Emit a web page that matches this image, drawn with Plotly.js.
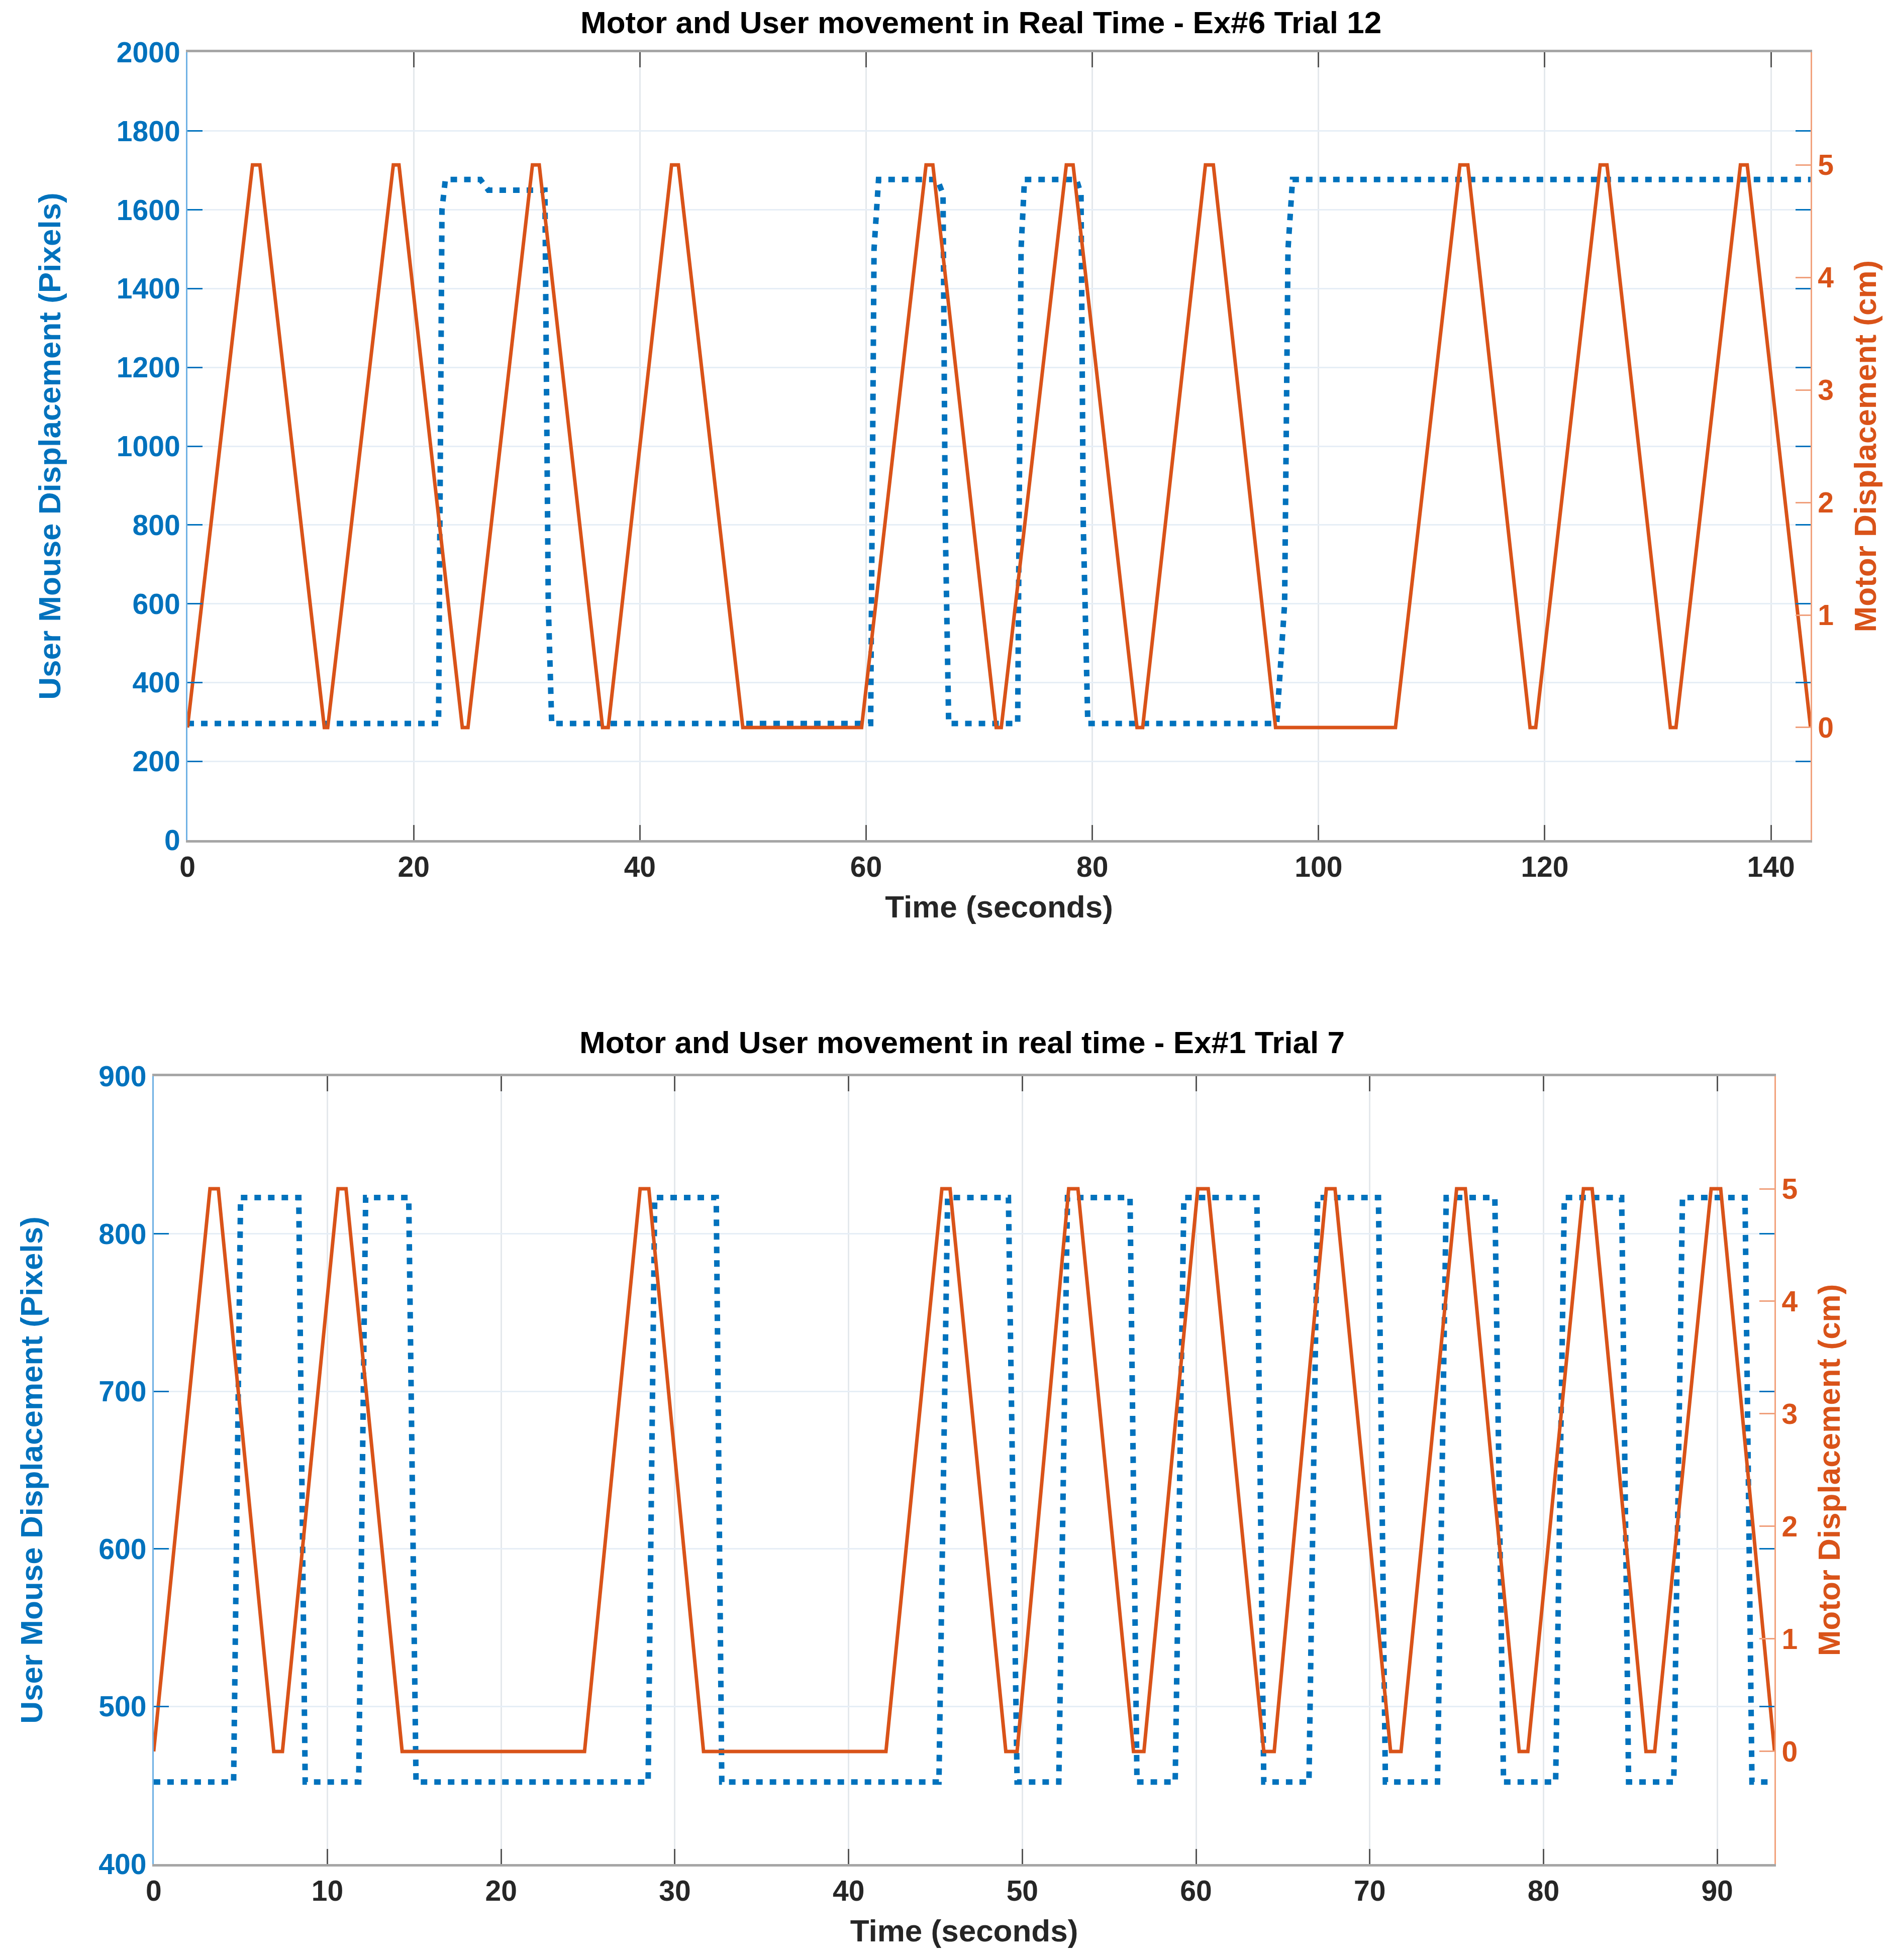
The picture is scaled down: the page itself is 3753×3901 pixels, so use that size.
<!DOCTYPE html>
<html>
<head>
<meta charset="utf-8">
<script src="https://cdn.plot.ly/plotly-3.0.1.min.js"></script>
<style>
  html, body { margin: 0; padding: 0; background: #fff; overflow: hidden; }
  #chart { width: 3753px; height: 3901px; }
</style>
</head>
<body>
<div id="chart"></div>
<script>
// Ex#6 Trial 12 (top panel)
let motorT6 = [0, 5.75, 6.4, 12.1, 12.4, 18.2, 18.7, 24.3, 24.8, 30.5, 31.1, 36.7, 37.2, 42.8, 43.4, 49.1,
  59.6, 65.3, 65.9, 71.5, 71.95, 77.7, 78.3, 83.95, 84.45, 90.0, 90.7, 96.2,
  106.8, 112.5, 113.2, 118.7, 119.2, 124.9, 125.5, 131.1, 131.6, 137.3, 137.9, 143.5];
let motorV6 = [0, 5, 5, 0, 0, 5, 5, 0, 0, 5, 5, 0, 0, 5, 5, 0,
  0, 5, 5, 0, 0, 5, 5, 0, 0, 5, 5, 0,
  0, 5, 5, 0, 0, 5, 5, 0, 0, 5, 5, 0];
let userT6 = [0, 22.2, 22.5, 22.8, 25.9, 26.6, 31.6, 31.9, 32.2,
  60.4, 60.7, 61.1, 66.3, 66.8, 67.0, 67.3,
  73.4, 73.7, 74.0, 78.6, 79.0, 79.2, 79.6,
  96.3, 97.0, 97.3, 97.7, 143.5];
let userV6 = [296, 296, 1600, 1677, 1677, 1650, 1650, 600, 296,
  296, 1500, 1677, 1677, 1640, 800, 296,
  296, 1500, 1677, 1677, 1640, 800, 296,
  296, 600, 1500, 1677, 1677];

// Ex#1 Trial 7 (bottom panel)
let motorT1 = [0, 3.24, 3.72, 6.91, 7.41, 10.61, 11.07, 14.3, 24.8, 28.0, 28.5, 31.65, 42.15,
  45.37, 45.84, 49.05, 49.7, 52.67, 53.2, 56.4, 57.0, 60.1, 60.7, 63.9, 64.5,
  67.5, 68.0, 71.2, 71.8, 75.0, 75.5, 78.6, 79.1, 82.3, 82.8, 85.9, 86.4, 89.65, 90.2, 93.3];
let motorV1 = [0, 5, 5, 0, 0, 5, 5, 0, 0, 5, 5, 0, 0,
  5, 5, 0, 0, 5, 5, 0, 0, 5, 5, 0, 0,
  5, 5, 0, 0, 5, 5, 0, 0, 5, 5, 0, 0, 5, 5, 0];
let userT1 = [0, 4.6, 5.0, 8.35, 8.72, 11.8, 12.2, 14.68, 15.1, 28.46, 28.84, 32.38, 32.7,
  45.2, 45.7, 49.2, 49.7, 52.1, 52.6, 56.2, 56.6, 58.8, 59.3, 63.5, 63.9,
  66.5, 67.0, 70.5, 70.9, 73.9, 74.4, 77.2, 77.7, 80.7, 81.2, 84.5, 84.9,
  87.5, 88.0, 91.6, 92.0, 93.3];
let userV1 = [452, 452, 823, 823, 452, 452, 823, 823, 452, 452, 823, 823, 452,
  452, 823, 823, 452, 452, 823, 823, 452, 452, 823, 823, 452,
  452, 823, 823, 452, 452, 823, 823, 452, 452, 823, 823, 452,
  452, 823, 823, 452, 452];

let blue = '#0072BD';
let orange = '#D95319';
let font = 'Liberation Sans, Arial, sans-serif';

function userTrace(t, v, xa, ya) {
  return {
    x: t, y: v, xaxis: xa, yaxis: ya,
    mode: 'lines',
    line: {color: blue, width: 11, dash: '13px,14px'},
    hoverinfo: 'skip'
  };
}

function motorTrace(t, v, xa, ya) {
  return {
    x: t, y: v, xaxis: xa, yaxis: ya,
    mode: 'lines',
    line: {color: orange, width: 7},
    hoverinfo: 'skip'
  };
}

function xAxis(domain, anchor, range, dtick) {
  return {
    domain: domain, anchor: anchor, range: range, dtick: dtick, tick0: 0,
    ticks: 'inside', ticklen: 30, tickwidth: 3, tickcolor: '#555555',
    showline: true, linecolor: '#a6a6a6', linewidth: 5, mirror: 'ticks',
    showgrid: true, gridcolor: '#e4e8ec', gridwidth: 3, zeroline: false,
    tickfont: {family: font, size: 57, color: '#262626', weight: 'bold'},
    title: {text: 'Time (seconds)', standoff: 28,
      font: {family: font, size: 62, color: '#262626', weight: 'bold'}}
  };
}

function leftAxis(domain, anchor, range, dtick) {
  return {
    domain: domain, anchor: anchor, range: range, dtick: dtick,
    ticks: 'inside', ticklen: 30, tickwidth: 3, tickcolor: blue,
    showline: true, linecolor: '#6fb1e4', linewidth: 3,
    showgrid: true, gridcolor: '#e6eef6', gridwidth: 3, zeroline: false,
    tickfont: {family: font, size: 57, color: blue, weight: 'bold'},
    title: {text: 'User Mouse Displacement (Pixels)', standoff: 92,
      font: {family: font, size: 62, color: blue, weight: 'bold'}}
  };
}

function rightAxis(over, anchor) {
  return {
    overlaying: over, side: 'right', anchor: anchor, range: [-1, 6],
    tickvals: [0, 1, 2, 3, 4, 5],
    ticks: 'inside', ticklen: 30, tickwidth: 3, tickcolor: '#f0a07c',
    showline: true, linecolor: '#f2a27d', linewidth: 3,
    showgrid: false, zeroline: false,
    tickfont: {family: font, size: 57, color: orange, weight: 'bold'},
    title: {text: 'Motor Displacement (cm)', standoff: 42,
      font: {family: font, size: 62, color: orange, weight: 'bold'}}
  };
}

// blue ticks of the left axis repeated on the right edge
function mirrorTicks(over, anchor, range, dtick) {
  return {
    overlaying: over, side: 'right', anchor: anchor, range: range, dtick: dtick,
    ticks: 'inside', ticklen: 30, tickwidth: 3, tickcolor: blue,
    showticklabels: false, showline: false, showgrid: false, zeroline: false
  };
}

let traces = [
  {x: [], y: [], xaxis: 'x', yaxis: 'y3', hoverinfo: 'skip'},
  {x: [], y: [], xaxis: 'x2', yaxis: 'y6', hoverinfo: 'skip'},
  userTrace(userT6, userV6, 'x', 'y'),
  motorTrace(motorT6, motorV6, 'x', 'y2'),
  userTrace(userT1, userV1, 'x2', 'y4'),
  motorTrace(motorT1, motorV1, 'x2', 'y5')
];

let layout = {
  width: 3753,
  height: 3901,
  margin: {l: 0, r: 0, t: 0, b: 0},
  paper_bgcolor: '#ffffff',
  plot_bgcolor: '#ffffff',
  showlegend: false,
  xaxis: xAxis([0.0994, 0.9600], 'y', [0, 143.5], 20),
  yaxis: leftAxis([0.5714, 0.9733], 'x', [0, 2000], 200),
  yaxis2: rightAxis('y', 'x'),
  yaxis3: mirrorTicks('y', 'x', [0, 2000], 200),
  xaxis2: xAxis([0.0815, 0.9409], 'y4', [0, 93.3], 10),
  yaxis4: leftAxis([0.0490, 0.4509], 'x2', [400, 900], 100),
  yaxis5: rightAxis('y4', 'x2'),
  yaxis6: mirrorTicks('y4', 'x2', [400, 900], 100),
  annotations: [
    {
      xref: 'paper', yref: 'paper', x: 0.520, y: 0.9885,
      xanchor: 'center', yanchor: 'middle', showarrow: false,
      text: 'Motor and User movement in Real Time - Ex#6 Trial 12',
      font: {family: font, size: 62, color: '#000000', weight: 'bold'}
    },
    {
      xref: 'paper', yref: 'paper', x: 0.510, y: 0.4681,
      xanchor: 'center', yanchor: 'middle', showarrow: false,
      text: 'Motor and User movement in real time - Ex#1 Trial 7',
      font: {family: font, size: 62, color: '#000000', weight: 'bold'}
    }
  ]
};

Plotly.newPlot('chart', traces, layout, {staticPlot: true, displayModeBar: false});
</script>
</body>
</html>
